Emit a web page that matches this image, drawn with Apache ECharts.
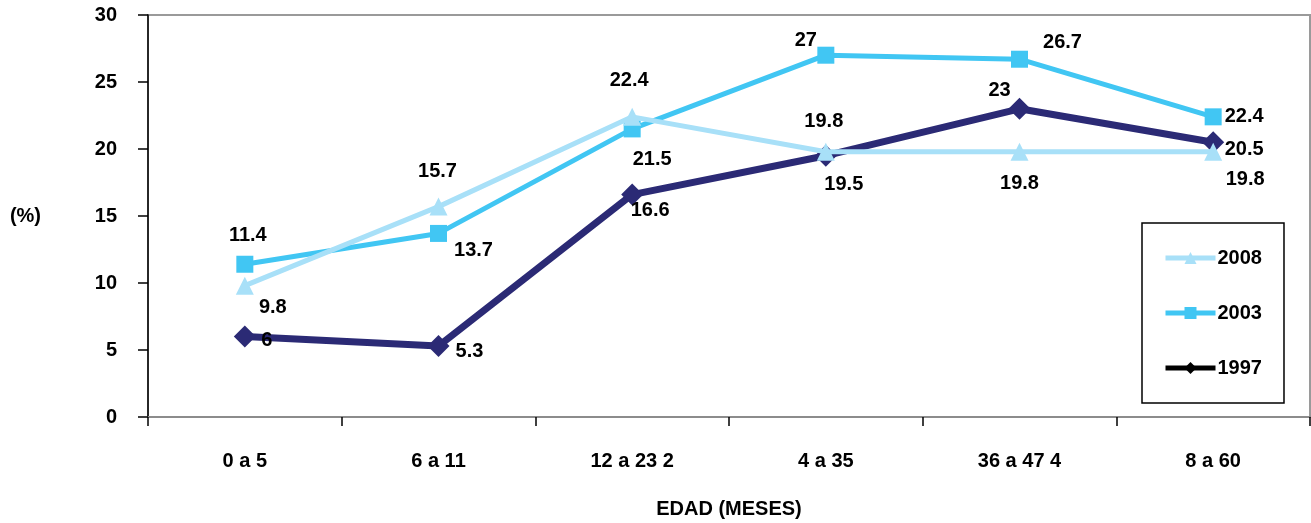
<!DOCTYPE html>
<html>
<head>
<meta charset="utf-8">
<script src="https://cdn.jsdelivr.net/npm/echarts@6/dist/echarts.min.js"></script>
<style>
  html, body { margin: 0; padding: 0; background: #fff; }
  #chart { width: 1311px; height: 523px; }
</style>
</head>
<body>
<div id="chart"></div>
<script>
// Age groups (months) on the x axis
const categories = ['0 a 5', '6 a 11', '12 a 23 2', '4 a 35', '36 a 47 4', '8 a 60'];

// Prevalence (%) per survey year
const values2008 = [9.8, 15.7, 22.4, 19.8, 19.8, 19.8];
const values2003 = [11.4, 13.7, 21.5, 27, 26.7, 22.4];
const values1997 = [6, 5.3, 16.6, 19.5, 23, 20.5];

const yTicks = [0, 5, 10, 15, 20, 25, 30];

// Where each value label sits relative to its point [dx, dy]
const offsets2008 = [[28, 22], [-1, -35], [-3, -36], [-2, -30], [0, 32], [32, 28]];
const offsets2003 = [[3, -29], [35, 17], [20, 31], [-20, -15], [43, -17], [31, 0]];
const offsets1997 = [[22, 4], [31, 6], [18, 16], [18, 29], [-20, -18], [31, 7]];

const FONT = "'Liberation Sans', Arial, sans-serif";
const FS = 20;

function labelled(values, offsets) {
  return values.map((v, i) => ({
    value: v,
    label: { offset: offsets[i] }
  }));
}

const labelBase = {
  show: true,
  position: 'inside',
  color: '#000',
  fontFamily: FONT,
  fontWeight: 'bold',
  fontSize: FS
};

const chart = echarts.init(document.getElementById('chart'), null, { renderer: 'canvas' });

chart.setOption({
  animation: false,
  backgroundColor: '#fff',
  grid: {
    left: 148, right: 1, top: 15, bottom: 106,
    outerBoundsMode: 'none',
    containLabel: false,
    show: true, borderColor: '#9a9a9a', borderWidth: 2, backgroundColor: 'transparent'
  },
  legend: {
    orient: 'vertical',
    left: 1142, top: 223,
    padding: [25, 22, 25, 21],
    itemWidth: 50, itemHeight: 15, itemGap: 35,
    borderColor: '#000', borderWidth: 1.5,
    textStyle: { color: '#000', fontFamily: FONT, fontWeight: 'bold', fontSize: FS, padding: [0, 0, 0, -3] },
    data: [
      { name: '2008', lineStyle: { width: 5 } },
      { name: '2003', lineStyle: { width: 5 } },
      { name: '1997', itemStyle: { color: '#000' }, lineStyle: { color: '#000', width: 5 } }
    ]
  },
  xAxis: {
    type: 'category',
    data: categories,
    boundaryGap: true,
    name: 'EDAD (MESES)',
    nameLocation: 'middle',
    nameGap: 82,
    nameTextStyle: { color: '#000', fontFamily: FONT, fontWeight: 'bold', fontSize: FS },
    axisLine: { lineStyle: { color: '#8c8c8c', width: 2 } },
    axisTick: { show: true, length: 9, lineStyle: { color: '#000', width: 1.5 } },
    axisLabel: { color: '#000', fontFamily: FONT, fontWeight: 'bold', fontSize: FS, margin: 34 },
    splitLine: { show: false }
  },
  yAxis: {
    type: 'value',
    min: yTicks[0],
    max: yTicks[yTicks.length - 1],
    interval: yTicks[1] - yTicks[0],
    name: '(%)',
    nameLocation: 'middle',
    nameRotate: 0,
    nameGap: 107,
    nameTextStyle: { color: '#000', fontFamily: FONT, fontWeight: 'bold', fontSize: FS },
    axisLine: { show: true, lineStyle: { color: '#000', width: 1.5 } },
    axisTick: { show: true, length: 10, lineStyle: { color: '#000', width: 1.5 } },
    axisLabel: { color: '#000', fontFamily: FONT, fontWeight: 'bold', fontSize: FS, margin: 31 },
    splitLine: { show: false }
  },
  series: [
    {
      name: '1997',
      type: 'line',
      data: labelled(values1997, offsets1997),
      symbol: 'diamond',
      symbolSize: 22,
      color: '#2b2a75',
      lineStyle: { color: '#2b2a75', width: 7 },
      itemStyle: { color: '#2b2a75' },
      label: labelBase,
      z: 2
    },
    {
      name: '2003',
      type: 'line',
      data: labelled(values2003, offsets2003),
      symbol: 'rect',
      symbolSize: 17,
      color: '#41c6f3',
      lineStyle: { color: '#41c6f3', width: 5 },
      itemStyle: { color: '#41c6f3' },
      label: labelBase,
      z: 3
    },
    {
      name: '2008',
      type: 'line',
      data: labelled(values2008, offsets2008),
      symbol: 'triangle',
      symbolSize: 18,
      color: '#a8e0f8',
      lineStyle: { color: '#a8e0f8', width: 5 },
      itemStyle: { color: '#a8e0f8' },
      label: labelBase,
      z: 4
    }
  ]
});
</script>
</body>
</html>
